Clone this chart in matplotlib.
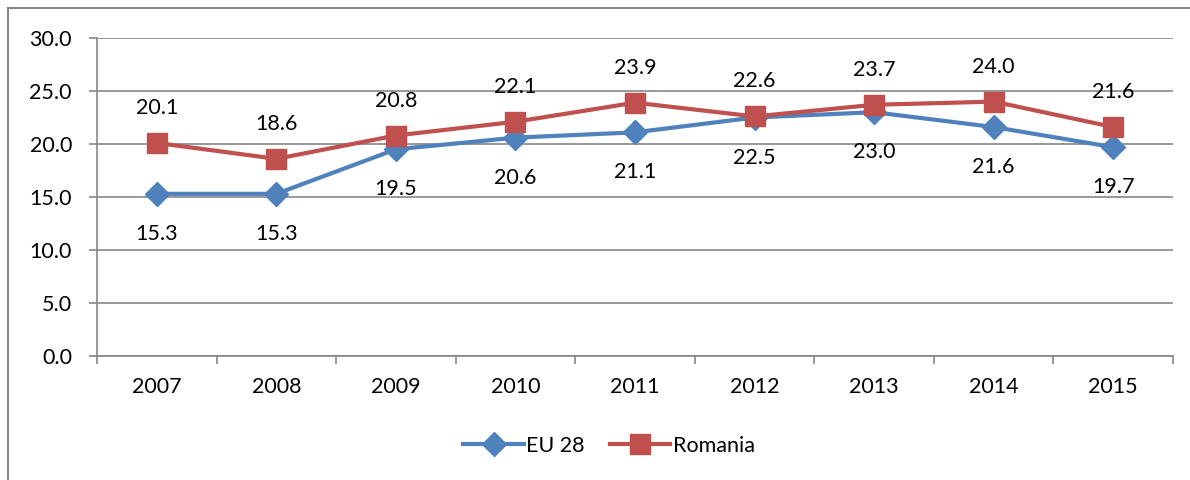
import matplotlib
matplotlib.use("Agg")
import matplotlib.pyplot as plt
from matplotlib.lines import Line2D

years = ["2007", "2008", "2009", "2010", "2011", "2012", "2013", "2014", "2015"]
eu28 = [15.3, 15.3, 19.5, 20.6, 21.1, 22.5, 23.0, 21.6, 19.7]
romania = [20.1, 18.6, 20.8, 22.1, 23.9, 22.6, 23.7, 24.0, 21.6]
yticks = [0.0, 5.0, 10.0, 15.0, 20.0, 25.0, 30.0]

plt.rcParams['font.family'] = ['Lato', 'DejaVu Sans']
FS = 15.5
blue = "#4F81BD"
red = "#C0504D"
grid = "#868686"

fig = plt.figure(figsize=(11.9, 4.8), dpi=100)
ax = fig.add_axes([97/1190, 1-356/480, (1173-97)/1190, (356-38)/480])

x = list(range(len(years)))
ax.plot(x, eu28, color=blue, lw=3, marker='D', ms=12, mec=blue, mfc=blue, label="EU 28", zorder=3)
ax.plot(x, romania, color=red, lw=3, marker='s', ms=14, mec=red, mfc=red, label="Romania", zorder=4)

for xi, v in zip(x, eu28):
    ax.annotate(f"{v:.1f}", (xi, v), xytext=(0, -40), textcoords='offset pixels',
                ha='center', va='center', fontsize=FS, color='black')
for xi, v in zip(x, romania):
    ax.annotate(f"{v:.1f}", (xi, v), xytext=(0, 35), textcoords='offset pixels',
                ha='center', va='center', fontsize=FS, color='black')

ax.set_xlim(-0.5, len(years) - 0.5)
ax.set_ylim(0, 30)
ax.set_yticks(yticks)
ax.set_yticklabels([f"{t:.1f}" for t in yticks], fontsize=FS)
ax.yaxis.grid(True, color=grid, lw=1.2)
ax.set_axisbelow(True)

ax.set_xticks(x)
ax.set_xticklabels(years, fontsize=FS)
ax.set_xticks([i - 0.5 for i in range(len(years) + 1)], minor=True)
ax.tick_params(axis='x', which='major', length=0, pad=15)
ax.tick_params(axis='x', which='minor', length=6, color=grid, width=1.2)
ax.tick_params(axis='y', length=6, color=grid, width=1.2, pad=12)

for s in ['top', 'right']:
    ax.spines[s].set_visible(False)
for s in ['left', 'bottom']:
    ax.spines[s].set_color(grid)
    ax.spines[s].set_linewidth(1.2)

leg = fig.legend(loc='center', bbox_to_anchor=(609/1190, 1-446/480), ncol=2, frameon=False,
                 fontsize=FS, handlelength=2.8, handletextpad=0.1, columnspacing=1.2)

fig.add_artist(Line2D([8/1190, 8/1190], [0, 1-8/480], transform=fig.transFigure, color=grid, lw=1.5))
fig.add_artist(Line2D([8/1190, 1], [1-8/480, 1-8/480], transform=fig.transFigure, color=grid, lw=1.5))

fig.savefig("out.png", dpi=100)
